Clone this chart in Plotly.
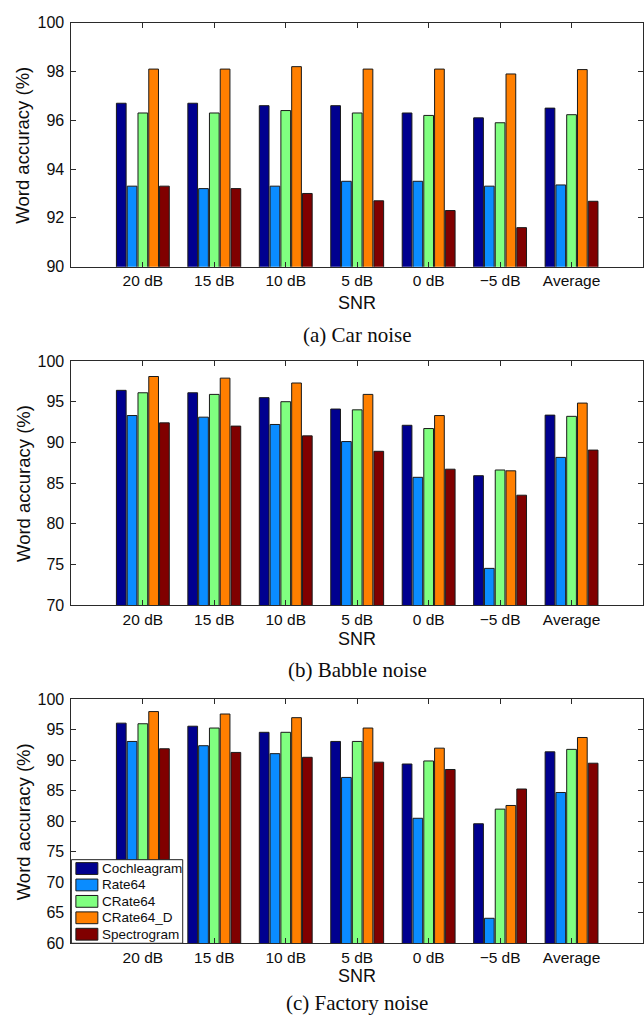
import plotly.graph_objects as go

# SNR conditions on the x axis and the five feature types
snr_labels = ["20 dB", "15 dB", "10 dB", "5 dB", "0 dB", "\u22125 dB", "Average"]
features = ["Cochleagram", "Rate64", "CRate64", "CRate64_D", "Spectrogram"]
bar_colors = ["#00008F", "#0A8CFF", "#80FF80", "#FF7F00", "#800000"]

# (a) Car noise - word accuracy (%)
car_cochleagram = [96.7, 96.7, 96.6, 96.6, 96.3, 96.1, 96.5]
car_rate64 = [93.3, 93.2, 93.3, 93.5, 93.5, 93.3, 93.35]
car_crate64 = [96.3, 96.3, 96.4, 96.3, 96.2, 95.9, 96.23]
car_crate64_d = [98.1, 98.1, 98.2, 98.1, 98.1, 97.9, 98.08]
car_spectrogram = [93.3, 93.2, 93.0, 92.7, 92.3, 91.6, 92.68]

# (b) Babble noise
babble_cochleagram = [96.4, 96.1, 95.5, 94.1, 92.1, 85.9, 93.35]
babble_rate64 = [93.3, 93.1, 92.2, 90.1, 85.7, 74.5, 88.15]
babble_crate64 = [96.1, 95.9, 95.0, 94.0, 91.7, 86.6, 93.2]
babble_crate64_d = [98.1, 97.9, 97.3, 95.9, 93.3, 86.5, 94.83]
babble_spectrogram = [92.4, 92.0, 90.8, 88.9, 86.7, 83.5, 89.05]

# (c) Factory noise
factory_cochleagram = [96.1, 95.6, 94.6, 93.1, 89.4, 79.6, 91.4]
factory_rate64 = [93.1, 92.4, 91.1, 87.2, 80.5, 64.1, 84.73]
factory_crate64 = [96.0, 95.3, 94.6, 93.1, 89.9, 82.0, 91.8]
factory_crate64_d = [98.0, 97.6, 97.0, 95.3, 92.0, 82.6, 93.75]
factory_spectrogram = [91.9, 91.3, 90.5, 89.7, 88.5, 85.3, 89.53]

panels = [
    ("(a) Car noise",
     [car_cochleagram, car_rate64, car_crate64, car_crate64_d, car_spectrogram],
     [90, 100], 2),
    ("(b) Babble noise",
     [babble_cochleagram, babble_rate64, babble_crate64, babble_crate64_d, babble_spectrogram],
     [70, 100], 5),
    ("(c) Factory noise",
     [factory_cochleagram, factory_rate64, factory_crate64, factory_crate64_d, factory_spectrogram],
     [60, 100], 5),
]

W, H = 644, 1028
plot_left = 71.5
panel_tops = [15, 359, 703]
panel_height = 248
snr_offsets = [37, 35, 33]
caption_offsets = [70, 66, 61]

SANS = "Liberation Sans, Arial, Helvetica, sans-serif"
SERIF = "Liberation Serif, Times New Roman, serif"
AXIS_COLOR = "#2a2a2a"
TEXT_COLOR = "#0d0d0d"


def py(pix):
    return 1 - pix / H


def px(pix):
    return pix / W


fig = go.Figure()
annotations = []
shapes = []
x_mid = px((plot_left + W) / 2)

for i, (caption, series, yrange, dtick) in enumerate(panels):
    n = i + 1
    xa = "x" if n == 1 else f"x{n}"
    ya = "y" if n == 1 else f"y{n}"
    for name, vals, col in zip(features, series, bar_colors):
        fig.add_trace(go.Bar(
            x=snr_labels, y=vals, name=name,
            marker=dict(color=col, line=dict(color="#1a1a1a", width=1)),
            xaxis=xa, yaxis=ya, showlegend=False,
        ))

    top = panel_tops[i]
    bottom = top + panel_height
    axis_common = dict(
        showline=True, linecolor=AXIS_COLOR, linewidth=1, mirror="ticks",
        ticks="inside", ticklen=5, tickcolor=AXIS_COLOR, tickwidth=1,
        showgrid=False, zeroline=False,
        tickfont=dict(family=SANS, size=15.5, color=TEXT_COLOR),
    )
    suffix = "" if n == 1 else str(n)
    fig.layout["xaxis" + suffix] = dict(
        axis_common, domain=[px(plot_left), 1.0], anchor=ya,
        type="category", range=[-1, 7],
    )
    fig.layout["yaxis" + suffix] = dict(
        axis_common, domain=[py(bottom), py(top)], anchor=xa,
        range=yrange, dtick=dtick, ticklabelstandoff=3,
        tickfont=dict(family=SANS, size=16, color=TEXT_COLOR),
    )

    annotations.append(dict(
        text="Word accuracy (%)", textangle=-90, xref="paper", yref="paper",
        x=px(23), y=py((top + bottom) / 2), xanchor="center", yanchor="middle",
        showarrow=False, font=dict(family=SANS, size=18.5, color=TEXT_COLOR),
    ))
    annotations.append(dict(
        text="SNR", xref="paper", yref="paper",
        x=x_mid, y=py(bottom + snr_offsets[i]), xanchor="center", yanchor="middle",
        showarrow=False, font=dict(family=SANS, size=18, color=TEXT_COLOR),
    ))
    annotations.append(dict(
        text=caption, xref="paper", yref="paper",
        x=x_mid, y=py(bottom + caption_offsets[i]), xanchor="center", yanchor="middle",
        showarrow=False, font=dict(family=SERIF, size=21, color=TEXT_COLOR),
    ))

# Legend box in the lower-left corner of the factory-noise panel
leg_left, leg_right = plot_left, 183
leg_bottom = panel_tops[2] + panel_height
leg_top = leg_bottom - 85
shapes.append(dict(
    type="rect", xref="paper", yref="paper",
    x0=px(leg_left), x1=px(leg_right), y0=py(leg_bottom), y1=py(leg_top),
    fillcolor="white", line=dict(color="#222222", width=1), layer="above",
))
row_h = 16.7
for k, (name, col) in enumerate(zip(features, bar_colors)):
    cy = leg_top + 9 + k * row_h
    shapes.append(dict(
        type="rect", xref="paper", yref="paper",
        x0=px(76), x1=px(98), y0=py(cy + 6), y1=py(cy - 6),
        fillcolor=col, line=dict(color="#1a1a1a", width=1), layer="above",
    ))
    annotations.append(dict(
        text=name, xref="paper", yref="paper",
        x=px(100), y=py(cy), xanchor="left", yanchor="middle",
        showarrow=False, font=dict(family=SANS, size=13.5, color=TEXT_COLOR),
    ))

fig.update_layout(
    width=W, height=H,
    margin=dict(l=0, r=0, t=0, b=0),
    paper_bgcolor="white", plot_bgcolor="white",
    barmode="group", bargap=0.245, bargroupgap=0.1,
    annotations=annotations, shapes=shapes,
    showlegend=False,
)

fig.write_html("out.html")
